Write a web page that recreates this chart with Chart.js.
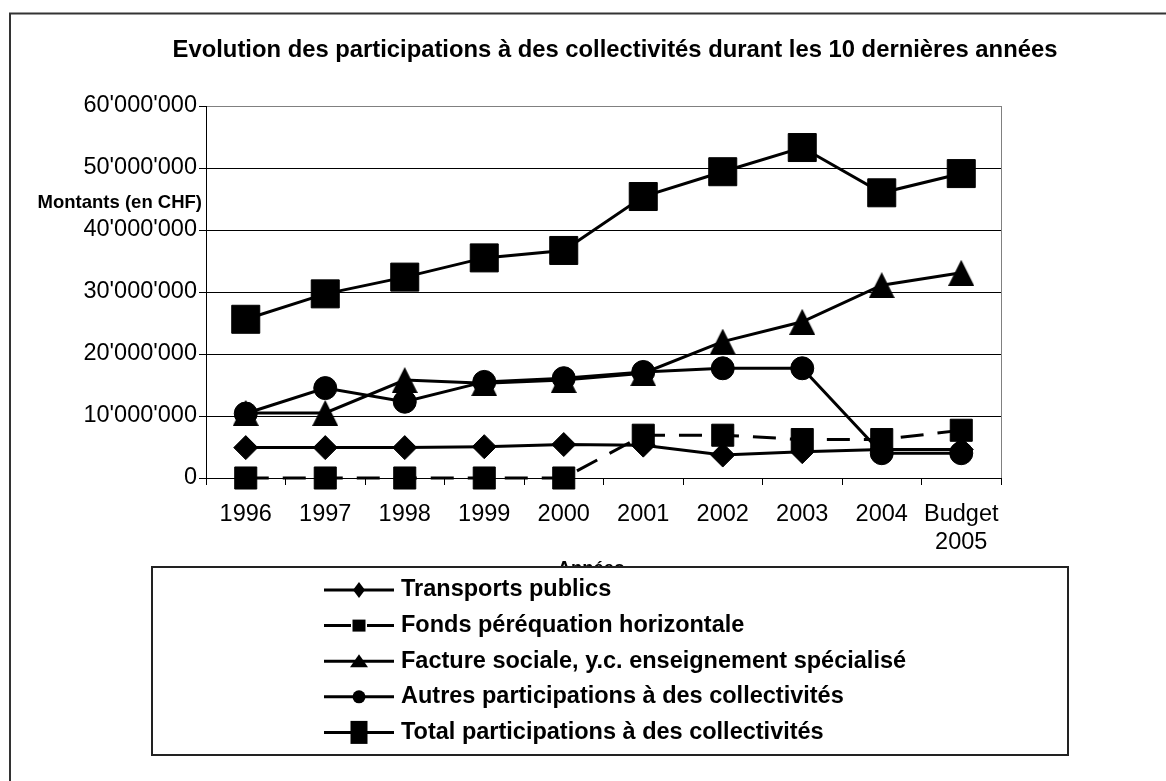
<!DOCTYPE html>
<html><head><meta charset="utf-8">
<script src="https://cdn.jsdelivr.net/npm/chart.js@4"></script>
<style>html,body{margin:0;padding:0;background:#fff;}#wrap{position:relative;width:1166px;height:781px;}</style>
</head><body><div id="wrap"><canvas id="c" width="1166" height="781"></canvas></div>
<script>
// ---- data ----
const categories = ['1996','1997','1998','1999','2000','2001','2002','2003','2004',['Budget','2005']];
const transportsPublics = [4.9e6, 4.9e6, 4.9e6, 5.05e6, 5.4e6, 5.3e6, 3.7e6, 4.25e6, 4.6e6, 4.6e6];
const fondsPerequation   = [0, 0, 0, 0, 0, 6.9e6, 6.9e6, 6.2e6, 6.2e6, 7.7e6];
const factureSociale     = [10.5e6, 10.5e6, 15.8e6, 15.3e6, 15.8e6, 16.9e6, 22.0e6, 25.2e6, 31.1e6, 33.1e6];
const autresParticip     = [10.4e6, 14.5e6, 12.3e6, 15.5e6, 16.1e6, 17.1e6, 17.7e6, 17.7e6, 4.0e6, 4.0e6];
const totalParticip      = [25.6e6, 29.7e6, 32.4e6, 35.5e6, 36.7e6, 45.4e6, 49.4e6, 53.3e6, 46.0e6, 49.1e6];
const yTickValues = [0, 10e6, 20e6, 30e6, 40e6, 50e6, 60e6];
const seriesNames = ['Transports publics','Fonds péréquation horizontale','Facture sociale, y.c. enseignement spécialisé','Autres participations à des collectivités','Total participations à des collectivités'];
const chartTitle = 'Evolution des participations à des collectivités durant les 10 dernières années';
const yAxisTitle = 'Montants (en CHF)';
const xAxisTitle = 'Années';

const FONT = "'Liberation Sans', Arial, sans-serif";
function fmt(v){ return String(Math.round(v)).replace(/\B(?=(\d{3})+(?!\d))/g, "'"); }

// triangle point image
function triCanvas(w,h){
  const c=document.createElement('canvas'); c.width=w; c.height=h;
  const g=c.getContext('2d'); g.fillStyle='#000';
  g.beginPath(); g.moveTo(w/2,0); g.lineTo(w,h); g.lineTo(0,h); g.closePath(); g.fill();
  return c;
}
const triImg = triCanvas(26,26);

const base = {borderColor:'#000', backgroundColor:'#000', borderWidth:3, pointBackgroundColor:'#000', pointBorderColor:'#000', pointBorderWidth:1, tension:0, fill:false, clip:false};

const decor = {
  id:'decor',
  beforeDraw(chart){
    const ctx=chart.ctx;
    ctx.save();
    ctx.fillStyle='#fff'; ctx.fillRect(0,0,chart.width,chart.height);
    ctx.strokeStyle='#333'; ctx.lineWidth=2;
    ctx.strokeRect(10,13.5,1300,900);
    ctx.restore();
  },
  beforeDatasetsDraw(chart){
    const ctx=chart.ctx, a=chart.chartArea;
    ctx.save(); ctx.strokeStyle='#808080'; ctx.lineWidth=1;
    ctx.beginPath(); ctx.moveTo(Math.round(a.right)+0.5,a.top); ctx.lineTo(Math.round(a.right)+0.5,a.bottom); ctx.stroke();
    ctx.restore();
  },
  afterDraw(chart){
    const ctx=chart.ctx;
    ctx.save();
    ctx.fillStyle='#000';
    // title
    ctx.font='bold 23.8px '+FONT; ctx.textAlign='center'; ctx.textBaseline='alphabetic';
    ctx.fillText(chartTitle, 615, 57);
    // y axis title
    ctx.font='bold 18.5px '+FONT; ctx.textAlign='right'; ctx.textBaseline='middle';
    ctx.fillText(yAxisTitle, 202, 203);
    // x axis title
    ctx.textAlign='center'; ctx.textBaseline='alphabetic';
    ctx.fillText(xAxisTitle, 591, 574);
    // legend box
    ctx.fillStyle='#fff'; ctx.fillRect(152,567,916,188);
    ctx.strokeStyle='#222'; ctx.lineWidth=2; ctx.strokeRect(152,567,916,188);
    const ys=[590,625.6,661.2,696.8,732.4];
    const lx1=324, lx2=394, mx=359;
    ctx.fillStyle='#000'; ctx.strokeStyle='#000'; ctx.lineWidth=3;
    ys.forEach((y,i)=>{
      ctx.beginPath();
      if(i===1){ ctx.moveTo(lx1,y); ctx.lineTo(351,y); ctx.moveTo(367,y); ctx.lineTo(lx2,y); }
      else { ctx.moveTo(lx1,y); ctx.lineTo(lx2,y); }
      ctx.stroke();
      ctx.beginPath();
      if(i===0){ ctx.moveTo(mx,y-8); ctx.lineTo(mx+6,y); ctx.lineTo(mx,y+8); ctx.lineTo(mx-6,y); ctx.closePath(); }
      else if(i===1){ ctx.rect(mx-6.5,y-6,13,12); }
      else if(i===2){ ctx.moveTo(mx,y-7); ctx.lineTo(mx+9,y+6); ctx.lineTo(mx-9,y+6); ctx.closePath(); }
      else if(i===3){ ctx.ellipse(mx,y,6.5,6.5,0,0,Math.PI*2); }
      else { ctx.rect(mx-8.5,y-11.5,17,23); }
      ctx.fill();
      ctx.font='bold 23.5px '+FONT; ctx.textAlign='left'; ctx.textBaseline='middle';
      ctx.fillText(seriesNames[i], 401, y);
    });
    ctx.restore();
  }
};

new Chart(document.getElementById('c'), {
  type:'line',
  data:{
    labels: categories,
    datasets:[
      Object.assign({}, base, {label:seriesNames[0], data:transportsPublics, pointStyle:'rectRot', pointRadius:12, order:5}),
      Object.assign({}, base, {label:seriesNames[1], data:fondsPerequation, pointStyle:'rect', pointRadius:15.6, borderDash:[23,14], order:4}),
      Object.assign({}, base, {label:seriesNames[2], data:factureSociale, pointStyle:triImg, pointRadius:13, order:3}),
      Object.assign({}, base, {label:seriesNames[3], data:autresParticip, pointStyle:'circle', pointRadius:11.5, order:2}),
      Object.assign({}, base, {label:seriesNames[4], data:totalParticip, pointStyle:'rect', pointRadius:19.8, order:1})
    ]
  },
  options:{
    responsive:false, animation:false, devicePixelRatio:1, events:[],
    layout:{padding:{left:0, top:106, right:165, bottom:223}},
    plugins:{legend:{display:false}, title:{display:false}, tooltip:{enabled:false}},
    scales:{
      x:{
        offset:true,
        afterFit(s){ s.height = 80; },
        grid:{display:true, drawOnChartArea:false, offset:true, tickLength:7, color:'#000', tickColor:'#000', lineWidth:1},
        border:{display:true, color:'#000', width:1},
        ticks:{font:{family:FONT, size:23.5}, color:'#000', padding:15, maxRotation:0, autoSkip:false}
      },
      y:{
        min:0, max:60e6,
        afterBuildTicks(s){ s.ticks = yTickValues.map(v=>({value:v})); },
        afterFit(s){ s.width = 206; },
        grid:{color:(c)=> (c.tick && c.tick.value===60e6) ? '#808080' : '#000', tickColor:'#000', tickLength:7, lineWidth:1},
        border:{display:true, color:'#000', width:1},
        ticks:{font:{family:FONT, size:23.5}, color:'#000', padding:2, callback:(v)=>fmt(v)}
      }
    }
  },
  plugins:[decor]
});
</script>
</body></html>
